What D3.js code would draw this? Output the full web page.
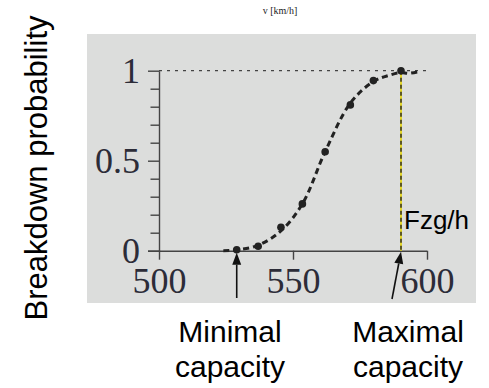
<!DOCTYPE html>
<html>
<head>
<meta charset="utf-8">
<script src="https://cdn.jsdelivr.net/npm/d3@7"></script>
<style>
  html, body { margin: 0; padding: 0; background: #fff; }
  svg { display: block; }
</style>
</head>
<body>
<svg id="chart" width="489" height="388"></svg>
<script>
// Measured breakdown points: flow (Fzg/h) and probability
const flow = [529, 537, 545.5, 553.5, 562, 571.4, 580, 590.3];
const probability = [0.005, 0.025, 0.13, 0.26, 0.55, 0.81, 0.945, 1.0];

// Fitted distribution curve drawn as a dashed line
const curveFlow = [524, 529, 537, 545.5, 553.5, 562, 571.4, 580, 586, 590.3, 593, 597];
const curveProb = [0.0, 0.004, 0.03, 0.11, 0.26, 0.55, 0.82, 0.94, 0.975, 0.99, 0.985, 0.995];

const xTicks = [500, 550, 600];
const yMajorTicks = [0, 0.5, 1];
const yMinorTicks = [0.1, 0.2, 0.3, 0.4, 0.6, 0.7, 0.8, 0.9];

const minCapacity = 529;
const maxCapacity = 590.3;

const svg = d3.select("#chart");

// grey plot panel
svg.append("rect")
  .attr("x", 87).attr("y", 34).attr("width", 389).attr("height", 269)
  .attr("fill", "#dcdddc");

const x = d3.scaleLinear().domain([500, 600]).range([159, 427]);
const y = d3.scaleLinear().domain([0, 1]).range([250.7, 70.7]);

const axisColor = "#444";
const labelColor = "#2c2c38";
const serif = "'Liberation Serif', 'DejaVu Serif', serif";

// x axis
const gx = svg.append("g").attr("transform", `translate(0,${y(0)})`)
  .call(d3.axisBottom(x).tickValues(xTicks).tickSize(9).tickSizeOuter(0).tickPadding(8).tickFormat(d3.format("d")));
gx.select(".domain").attr("d", `M${x(500) - 11},0.5H${x(600)}`).attr("stroke", axisColor).attr("stroke-width", 1.4);
gx.selectAll(".tick line").attr("stroke", axisColor).attr("stroke-width", 1.4);
gx.selectAll(".tick text").attr("font-family", serif).attr("font-size", 36).attr("fill", labelColor);

// y axis: minor ticks
const gyMinor = svg.append("g").attr("transform", `translate(${x(500)},0)`)
  .call(d3.axisLeft(y).tickValues(yMinorTicks).tickSize(8.5).tickSizeOuter(0).tickFormat(""));
gyMinor.select(".domain").remove();
gyMinor.selectAll(".tick line").attr("stroke", axisColor).attr("stroke-width", 1.4);

// y axis: major ticks with labels
const gy = svg.append("g").attr("transform", `translate(${x(500)},0)`)
  .call(d3.axisLeft(y).tickValues(yMajorTicks).tickSize(11).tickSizeOuter(0).tickPadding(8)
    .tickFormat(d => d === 0.5 ? "0.5" : d3.format("d")(d)));
gy.select(".domain").attr("stroke", axisColor).attr("stroke-width", 1.4);
gy.selectAll(".tick line").attr("stroke", axisColor).attr("stroke-width", 1.4);
gy.selectAll(".tick text").attr("font-family", serif).attr("font-size", 36).attr("fill", labelColor);

// reference line at probability 1
svg.append("line")
  .attr("x1", x(500)).attr("x2", x(600)).attr("y1", y(1)).attr("y2", y(1))
  .attr("stroke", "#444").attr("stroke-width", 1.3).attr("stroke-dasharray", "3,5");

// maximal capacity marker line (yellow under black dashes)
svg.append("line")
  .attr("x1", x(maxCapacity)).attr("x2", x(maxCapacity)).attr("y1", y(1)).attr("y2", y(0))
  .attr("stroke", "#e8d600").attr("stroke-width", 1.6);
svg.append("line")
  .attr("x1", x(maxCapacity)).attr("x2", x(maxCapacity)).attr("y1", y(1)).attr("y2", y(0))
  .attr("stroke", "#222").attr("stroke-width", 1.4).attr("stroke-dasharray", "4,3");

// fitted curve
const line = d3.line().x(d => x(d[0])).y(d => y(d[1])).curve(d3.curveCatmullRom);
svg.append("path")
  .datum(d3.zip(curveFlow, curveProb))
  .attr("d", line)
  .attr("fill", "none").attr("stroke", "#222").attr("stroke-width", 3)
  .attr("stroke-dasharray", "6,4");

// measured points
svg.selectAll("circle.pt")
  .data(d3.zip(flow, probability))
  .join("circle")
  .attr("class", "pt")
  .attr("cx", d => x(d[0])).attr("cy", d => y(d[1]))
  .attr("r", 3.8).attr("fill", "#222");

// arrows pointing at capacities
function arrow(x0, y0, x1, y1) {
  const ang = Math.atan2(y1 - y0, x1 - x0);
  const len = 12, half = 4.5;
  const bx = x1 - len * Math.cos(ang), by = y1 - len * Math.sin(ang);
  svg.append("line").attr("x1", x0).attr("y1", y0).attr("x2", bx).attr("y2", by)
    .attr("stroke", "#111").attr("stroke-width", 1.6);
  const px = -Math.sin(ang) * half, py = Math.cos(ang) * half;
  svg.append("path")
    .attr("d", `M${x1},${y1}L${bx + px},${by + py}L${bx - px},${by - py}Z`)
    .attr("fill", "#111");
}
arrow(x(minCapacity), 298, x(minCapacity), y(0) + 2);
arrow(x(maxCapacity) - 9, 299, x(maxCapacity), y(0) + 1);

// texts
const sans = "'Liberation Sans', Arial, Helvetica, sans-serif";
svg.append("text").attr("x", 280).attr("y", 14)
  .attr("text-anchor", "middle").attr("font-family", serif).attr("font-size", 10).attr("fill", "#222")
  .text("v [km/h]");

svg.append("text").attr("x", 404).attr("y", 229)
  .attr("font-family", sans).attr("font-size", 26).attr("fill", "#000")
  .text("Fzg/h");

svg.append("text")
  .attr("transform", "translate(47,168) rotate(-90)")
  .attr("text-anchor", "middle").attr("font-family", sans).attr("font-size", 31).attr("fill", "#000")
  .text("Breakdown probability");

const bottom = svg.append("g").attr("font-family", sans).attr("font-size", 30).attr("fill", "#000").attr("text-anchor", "middle");
bottom.append("text").attr("x", 230).attr("y", 342).text("Minimal");
bottom.append("text").attr("x", 230).attr("y", 377).text("capacity");
bottom.append("text").attr("x", 408).attr("y", 342).text("Maximal");
bottom.append("text").attr("x", 408).attr("y", 377).text("capacity");
</script>
</body>
</html>
